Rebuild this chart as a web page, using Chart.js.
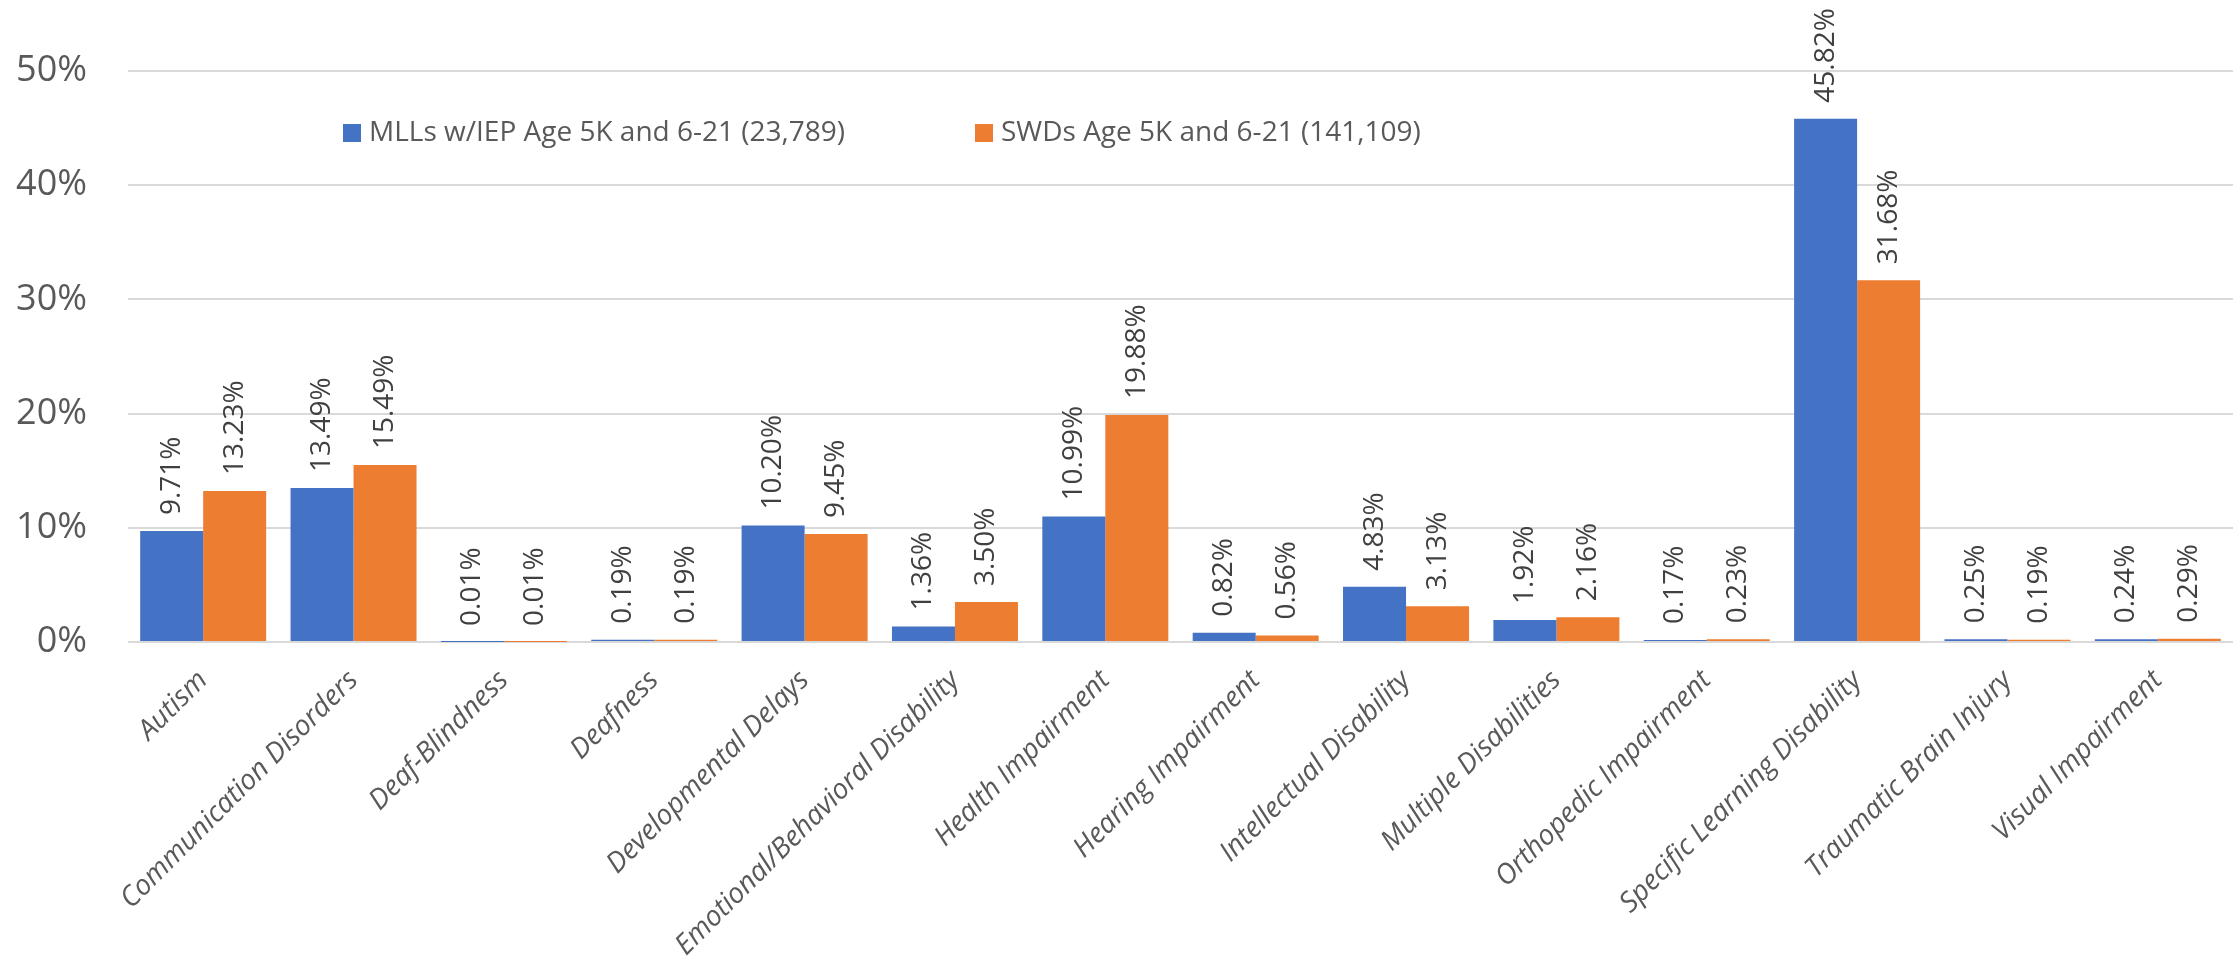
<!DOCTYPE html>
<html>
<head>
<meta charset="utf-8">
<script src="https://cdn.jsdelivr.net/npm/chart.js@4"></script>
<style>
  body { margin: 0; background: #fff; }
  #wrap { position: relative; width: 2233px; height: 975px; }
  #legend span.item { position: absolute; top: 111px; font: 28px "Open Sans", sans-serif; color: #595959; white-space: nowrap; }
  #legend i { display: inline-block; width: 18px; height: 18px; margin-right: 8px; vertical-align: -1px; }
</style>
</head>
<body>
<div id="wrap">
  <canvas id="chart" width="2233" height="975"></canvas>
  <div id="legend"></div>
</div>
<script>
const categories = [
  'Autism', 'Communication Disorders', 'Deaf-Blindness', 'Deafness',
  'Developmental Delays', 'Emotional/Behavioral Disability', 'Health Impairment',
  'Hearing Impairment', 'Intellectual Disability', 'Multiple Disabilities',
  'Orthopedic Impairment', 'Specific Learning Disability', 'Traumatic Brain Injury',
  'Visual Impairment'
];
const mllValues = [9.71, 13.49, 0.01, 0.19, 10.20, 1.36, 10.99, 0.82, 4.83, 1.92, 0.17, 45.82, 0.25, 0.24];
const swdValues = [13.23, 15.49, 0.01, 0.19, 9.45, 3.50, 19.88, 0.56, 3.13, 2.16, 0.23, 31.68, 0.19, 0.29];
const yTicks = [0, 10, 20, 30, 40, 50];

const seriesNames = ['MLLs w/IEP Age 5K and 6-21 (23,789)', 'SWDs Age 5K and 6-21 (141,109)'];
const colors = ['#4472C4', '#ED7D31'];
const legendLeft = [343, 975];

// value labels above each bar, rotated
const barLabels = {
  id: 'barLabels',
  afterDatasetsDraw(chart) {
    const ctx = chart.ctx;
    ctx.save();
    ctx.font = '28px "Open Sans", sans-serif';
    ctx.fillStyle = '#404040';
    ctx.textAlign = 'left';
    ctx.textBaseline = 'middle';
    chart.data.datasets.forEach((ds, i) => {
      chart.getDatasetMeta(i).data.forEach((bar, j) => {
        ctx.save();
        ctx.translate(bar.x, bar.y - 16);
        ctx.rotate(-Math.PI / 2);
        ctx.fillText(ds.data[j].toFixed(2) + '%', 0, 0);
        ctx.restore();
      });
    });
    ctx.restore();
  }
};

new Chart(document.getElementById('chart'), {
  type: 'bar',
  data: {
    labels: categories,
    datasets: [
      { label: seriesNames[0], data: mllValues, backgroundColor: colors[0] },
      { label: seriesNames[1], data: swdValues, backgroundColor: colors[1] }
    ]
  },
  options: {
    responsive: false,
    animation: false,
    layout: { padding: { top: 71, right: 0, bottom: 0, left: 0 } },
    datasets: { bar: { categoryPercentage: 0.838, barPercentage: 1.0 } },
    plugins: {
      legend: { display: false },
      tooltip: { enabled: false }
    },
    scales: {
      x: {
        grid: { display: false },
        border: { display: false },
        ticks: {
          color: '#595959',
          font: { family: 'Open Sans', size: 28, style: 'italic' },
          minRotation: 45,
          maxRotation: 45,
          padding: 14
        },
        afterFit(s) { s.height = 333; }
      },
      y: {
        min: 0,
        max: 50,
        afterBuildTicks(s) { s.ticks = yTicks.map(v => ({ value: v })); },
        grid: { color: '#d9d9d9', lineWidth: 2, drawTicks: false },
        border: { display: false },
        ticks: {
          color: '#595959',
          font: { family: 'Open Sans', size: 36 },
          padding: 41,
          callback: v => v + '%'
        },
        afterFit(s) { s.width = 128; }
      }
    }
  },
  plugins: [barLabels]
});

const legend = document.getElementById('legend');
seriesNames.forEach((name, i) => {
  const item = document.createElement('span');
  item.className = 'item';
  item.style.left = legendLeft[i] + 'px';
  item.innerHTML = '<i style="background:' + colors[i] + '"></i>' + name;
  legend.appendChild(item);
});
</script>
</body>
</html>
